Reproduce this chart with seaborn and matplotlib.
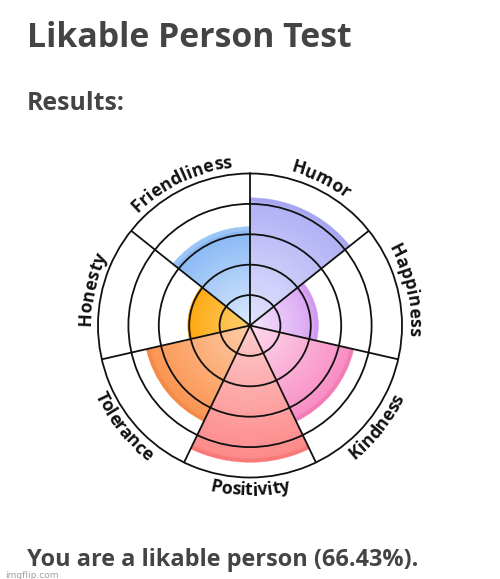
import numpy as np
import matplotlib
matplotlib.use("Agg")
import matplotlib.pyplot as plt
import seaborn as sns
from matplotlib.font_manager import FontProperties

# 数据
traits = ["Humor", "Happiness", "Kindness", "Positivity", "Tolerance", "Honesty", "Friendliness"]
scores = [84, 45, 70, 90, 70, 41, 65]
inner_colors = ["#e2e2fc", "#f6e6fb", "#fcdaec", "#fdcaca", "#fdcca6", "#ffcf70", "#dbe9fc"]
outer_colors = ["#b1b1f6", "#d9a3f3", "#f88ec4", "#fd8a8a", "#fb9552", "#fdaa12", "#88b9f5"]
rim_colors = ["#a7a5f2", "#d398f0", "#f27db5", "#f97878", "#f58a48", "#fda40c", "#9cc6f5"]
overall = 66.43

sns.set_theme(style="white")
plt.rcParams['font.family'] = ['Open Sans', 'DejaVu Sans']

fig = plt.figure(figsize=(5, 5.79), dpi=100)
R_PX = 152
ax = fig.add_axes([98 / 500, (253.5 - R_PX) / 579, 2 * R_PX / 500, 2 * R_PX / 579], projection='polar')
ax.set_theta_zero_location('N')
ax.set_theta_direction(-1)

n = len(traits)
width = 2 * np.pi / n
centers = np.arange(n) * width + width / 2

# 渐变扇形
steps = 40
rim = 2.5
for th, v, c0, c1, cr in zip(centers, scores, inner_colors, outer_colors, rim_colors):
    pal = sns.blend_palette([c0, c1], steps)
    body = v - rim
    for k in range(steps):
        ax.bar(th, body / steps, width=width, bottom=body * k / steps,
               color=pal[k], edgecolor=pal[k], linewidth=0.4, zorder=1)
    ax.bar(th, rim, width=width, bottom=body, color=cr, edgecolor=cr, linewidth=0.3, zorder=1)

ax.set_ylim(0, 100)
ax.set_yticks([20, 40, 60, 80])
ax.set_yticklabels([])
ax.set_xticks(np.arange(n) * width)
ax.set_xticklabels([])
ax.grid(True, color='#111111', linewidth=1.3)
ax.set_axisbelow(False)
ax.spines['polar'].set_color('#111111')
ax.spines['polar'].set_linewidth(1.3)
ax.tick_params(pad=0, length=0)

renderer = fig.canvas.get_renderer()


# 弧形标签：用渲染器量出每个字在整串中的墨迹中心，再沿圆弧排布
def curved_label(ax, text, theta_c, r_base, size):
    prop = FontProperties(family='Open Sans', weight='bold', size=size)

    def ink_w(s):
        return renderer.get_text_width_height_descent(s, prop, ismath=False)[0]

    total = ink_w(text)
    r_px = r_base / 100 * R_PX
    top = np.cos(theta_c) > 0
    for i, ch in enumerate(text):
        mid = ink_w(text[:i + 1]) - ink_w(ch) / 2
        d = (mid - total / 2) / r_px
        if top:
            th = theta_c + d
            rot = -np.degrees(th)
        else:
            th = theta_c - d
            rot = 180 - np.degrees(th)
        ax.text(th, r_base, ch, fontproperties=prop, color='#111111',
                ha='center', va='baseline', rotation=rot, rotation_mode='anchor',
                clip_on=False)


for th, name in zip(centers, traits):
    if np.cos(th) > 0:
        curved_label(ax, name, th, 159 / R_PX * 100, 12.8)
    else:
        curved_label(ax, name, th, 170 / R_PX * 100, 12.8)

fig.text(27 / 500, 1 - 46.7 / 579, "Likable Person Test", fontsize=24.4, fontweight='bold',
         color='#444444', ha='left', va='baseline')
fig.text(27 / 500, 1 - 110 / 579, "Results:", fontsize=17.9, fontweight='bold',
         color='#444444', ha='left', va='baseline')
fig.text(27 / 500, 1 - 565.7 / 579, f"You are a likable person ({overall:.2f}%).", fontsize=16.9,
         fontweight='bold', color='#444444', ha='left', va='baseline')
fig.text(5 / 500, 1 - 577.5 / 579, "imgflip.com", fontsize=6.5, color='#a0a0a0',
         ha='left', va='baseline', family=['DejaVu Sans'])

fig.savefig("out.png", dpi=100, facecolor='white')
